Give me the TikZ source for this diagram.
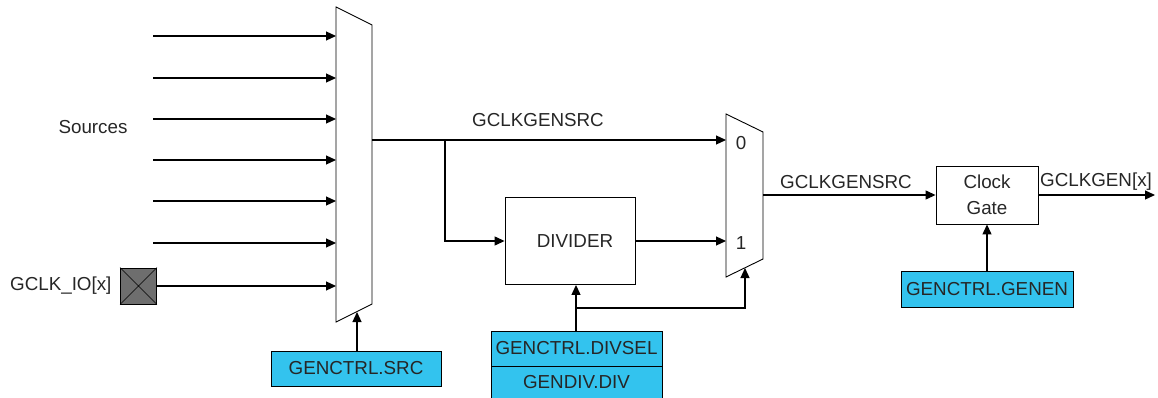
\documentclass[tikz,border=0pt]{standalone}
\usepackage{fontspec}
\setmainfont{Liberation Sans}
\usetikzlibrary{arrows.meta}
\definecolor{regblue}{RGB}{51,195,238}
\definecolor{padgray}{RGB}{110,110,110}

\begin{document}
\begin{tikzpicture}[x=1pt,y=-1pt,
  font=\fontsize{18.8}{26}\selectfont,text=black!85,
  sig/.style={line width=1.2pt,-{Triangle[length=10pt,width=9pt]}},
  blk/.style={draw,line width=0.9pt,inner sep=0pt},
  reg/.style={draw,line width=0.9pt,fill=regblue,inner sep=0pt}]
\useasboundingbox (0,0) rectangle (1158,398);
% muxes
\draw[line width=0.9pt] (336,7) -- (372,25) -- (372,304) -- (336,322) -- cycle;
\draw[line width=0.9pt] (726,114) -- (763,132) -- (763,259) -- (726,277) -- cycle;
\coordinate (m1out) at (372,140);
\coordinate (m1sel) at (357,312);
\coordinate (m2in0) at (726,140);
\coordinate (m2in1) at (726,241);
\coordinate (m2out) at (763,195);
\coordinate (m2sel) at (745,268);
% blocks
\node[blk,minimum width=130pt,minimum height=87pt](div) at (570,241){\hspace{10pt}DIVIDER};
\node[blk,minimum width=102pt,minimum height=58pt,align=center](gate) at (987,195){Clock\\Gate};
\node[reg,minimum width=170pt,minimum height=35pt](src) at (356,368.5){GENCTRL.SRC};
\node[reg,minimum width=171pt,minimum height=35pt](divsel) at (576.5,348.5){GENCTRL.DIVSEL};
\node[reg,minimum width=171pt,minimum height=32pt](gendiv) at (576.5,382){GENDIV.DIV};
\node[reg,minimum width=172pt,minimum height=36pt](genen) at (987,289){GENCTRL.GENEN};
\node[draw,fill=padgray,line width=0.9pt,minimum size=36pt,inner sep=0pt](pad) at (138.5,286){};
\draw[line width=0.7pt] (pad.north west) -- (pad.south east) (pad.north east) -- (pad.south west);
% labels
\node at (93,127){Sources};
\node[anchor=east] at (115,286){GCLK\_IO[x]};
\node at (538,120){GCLKGENSRC};
\node at (846,182){GCLKGENSRC};
\node at (1096,182){GCLKGEN[x]};
\node at (741,143){0};
\node at (741,243){1};
% sources
\foreach \y [count=\i] in {36,78,119,160,201,243}{
  \coordinate (s\i) at (153,\y);
  \coordinate (in\i) at (336,\y);
  \draw[sig] (s\i) -- (in\i);
}
\coordinate (in7) at (336,286);
\draw[sig] (pad.east) -- (in7);
% paths
\coordinate (br) at (445,140);
\coordinate (dsbr) at (576,308);
\coordinate (out) at (1155,195);
\draw[sig] (m1out) -- (m2in0);
\draw[sig] (br) |- (div.west);
\draw[sig] (div.east |- m2in1) -- (m2in1);
\draw[sig] (src.north -| m1sel) -- (m1sel);
\draw[sig] (divsel.north -| dsbr) -- (div.south -| dsbr);
\draw[sig] (dsbr) -| (m2sel);
\draw[sig] (m2out) -- (gate.west);
\draw[sig] (gate.east) -- (out);
\draw[sig] (genen.north) -- (gate.south);
\end{tikzpicture}
\end{document}
